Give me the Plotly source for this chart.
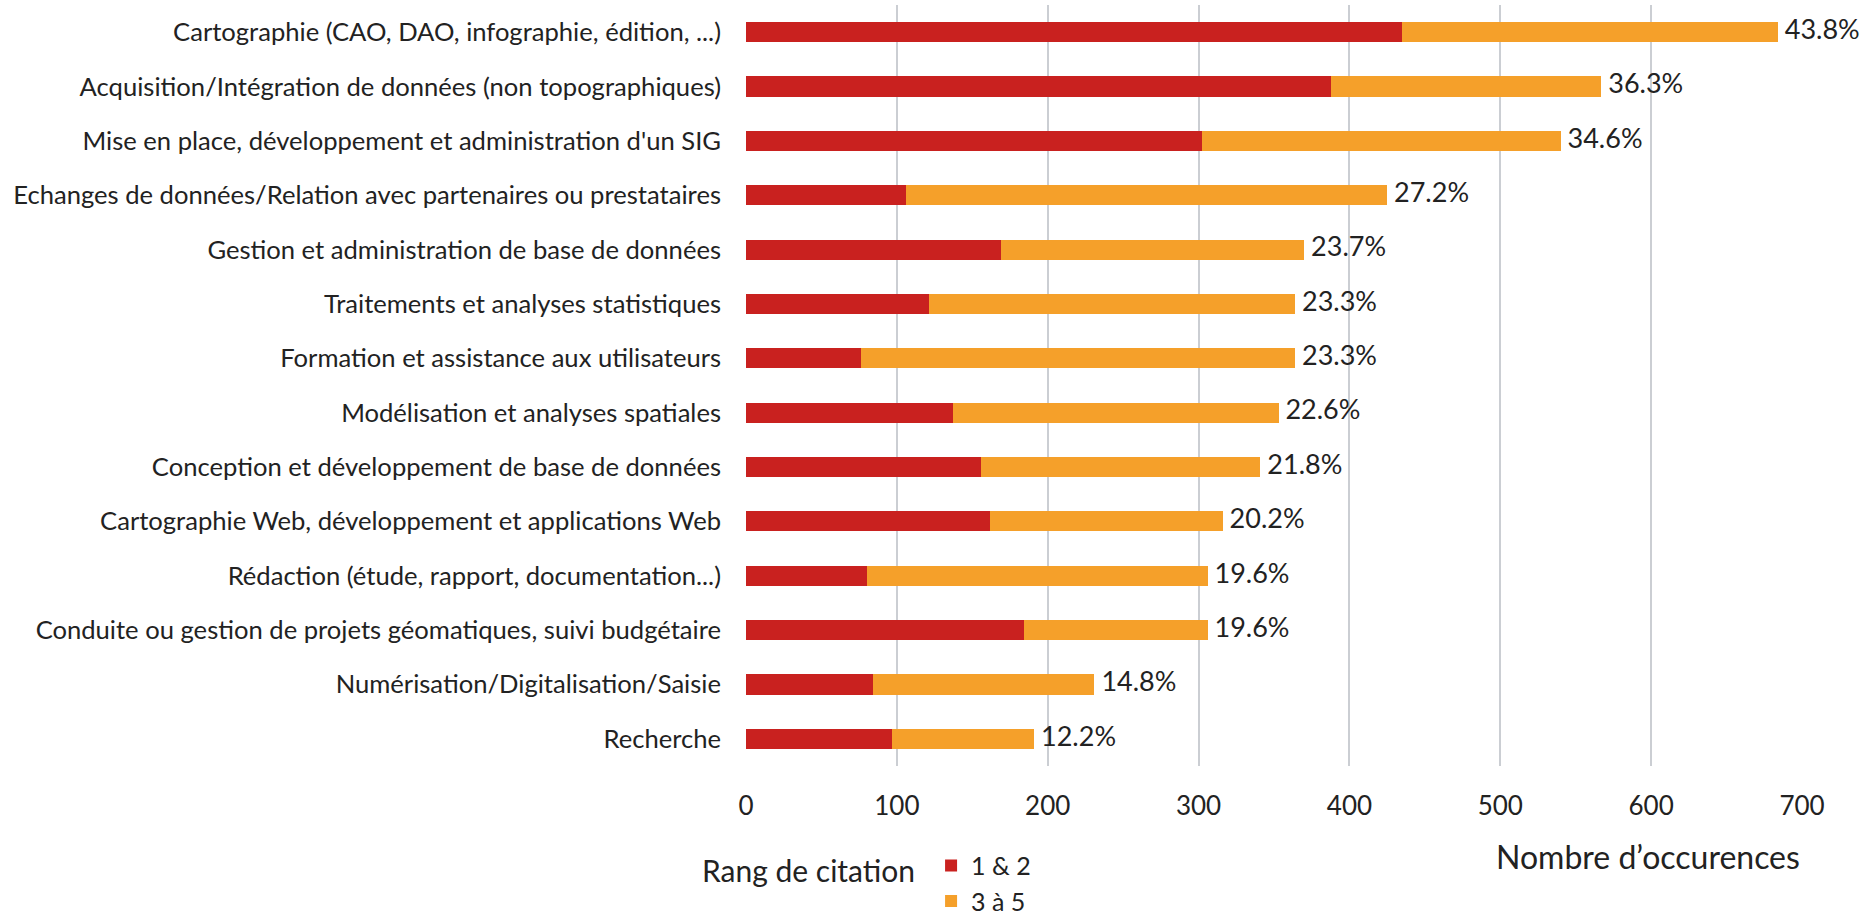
import plotly.graph_objects as go

categories = [
    "Cartographie (CAO, DAO, infographie, édition, ...)",
    "Acquisition/Intégration de données (non topographiques)",
    "Mise en place, développement et administration d'un SIG",
    "Echanges de données/Relation avec partenaires ou prestataires",
    "Gestion et administration de base de données",
    "Traitements et analyses statistiques",
    "Formation et assistance aux utilisateurs",
    "Modélisation et analyses spatiales",
    "Conception et développement de base de données",
    "Cartographie Web, développement et applications Web",
    "Rédaction (étude, rapport, documentation...)",
    "Conduite ou gestion de projets géomatiques, suivi budgétaire",
    "Numérisation/Digitalisation/Saisie",
    "Recherche",
]
rang_1_2 = [435, 388, 302, 106, 169, 121, 76, 137, 156, 162, 80, 184, 84, 97]
rang_3_5 = [249, 179, 238, 319, 201, 243, 288, 216, 185, 154, 226, 122, 147, 94]
pct_labels = ["43.8%", "36.3%", "34.6%", "27.2%", "23.7%", "23.3%", "23.3%",
              "22.6%", "21.8%", "20.2%", "19.6%", "19.6%", "14.8%", "12.2%"]
x_ticks = [0, 100, 200, 300, 400, 500, 600, 700]

totals = [a + b for a, b in zip(rang_1_2, rang_3_5)]

FONT = "Lato, sans-serif"
TXT = "#222222"
RED = "#C9211F"
ORANGE = "#F5A02A"

fig = go.Figure()
fig.add_trace(go.Bar(y=categories, x=rang_1_2, orientation="h", name="1 & 2",
                     marker=dict(color=RED, line=dict(width=0))))
fig.add_trace(go.Bar(y=categories, x=rang_3_5, orientation="h", name="3 à 5",
                     marker=dict(color=ORANGE, line=dict(width=0))))
fig.add_trace(go.Scatter(y=categories, x=totals, mode="text", text=pct_labels,
                         texttemplate=" %{text}",
                         textposition="middle right", showlegend=False,
                         textfont=dict(family=FONT, size=27, color=TXT),
                         cliponaxis=False, hoverinfo="skip"))

fig.update_layout(
    width=1867, height=919,
    margin=dict(l=746, r=65, t=5, b=153, autoexpand=False),
    barmode="stack",
    bargap=0.63,
    plot_bgcolor="white",
    paper_bgcolor="white",
    font=dict(family=FONT, size=25, color=TXT),
    legend=dict(xref="container", yref="container", x=0.4987, y=0.083,
                xanchor="left", yanchor="top", traceorder="normal",
                orientation="v", font=dict(family=FONT, size=25, color=TXT),
                tracegroupgap=0, itemwidth=30, bgcolor="rgba(0,0,0,0)"),
    showlegend=True,
)
fig.update_xaxes(range=[0, 700], tickvals=x_ticks, showgrid=True,
                 gridcolor="#CBCED3", gridwidth=2, zeroline=False,
                 showline=False, ticklabelstandoff=22, automargin=False,
                 tickfont=dict(family=FONT, size=26, color=TXT))
fig.update_yaxes(range=[13.5, -0.5], showgrid=False, zeroline=False,
                 showline=False, ticklabelstandoff=24, automargin=False,
                 tickfont=dict(family=FONT, size=25.6, color=TXT))

fig.add_annotation(text="Nombre d’occurences", xref="paper", yref="paper",
                   x=1.0, y=-0.119, xanchor="right", yanchor="middle",
                   showarrow=False, font=dict(family=FONT, size=32, color=TXT))
fig.add_annotation(text="Rang de citation", xref="paper", yref="paper",
                   x=0.162, y=-0.137, xanchor="right", yanchor="middle",
                   showarrow=False, font=dict(family=FONT, size=30, color=TXT))

fig.write_html("out.html")
